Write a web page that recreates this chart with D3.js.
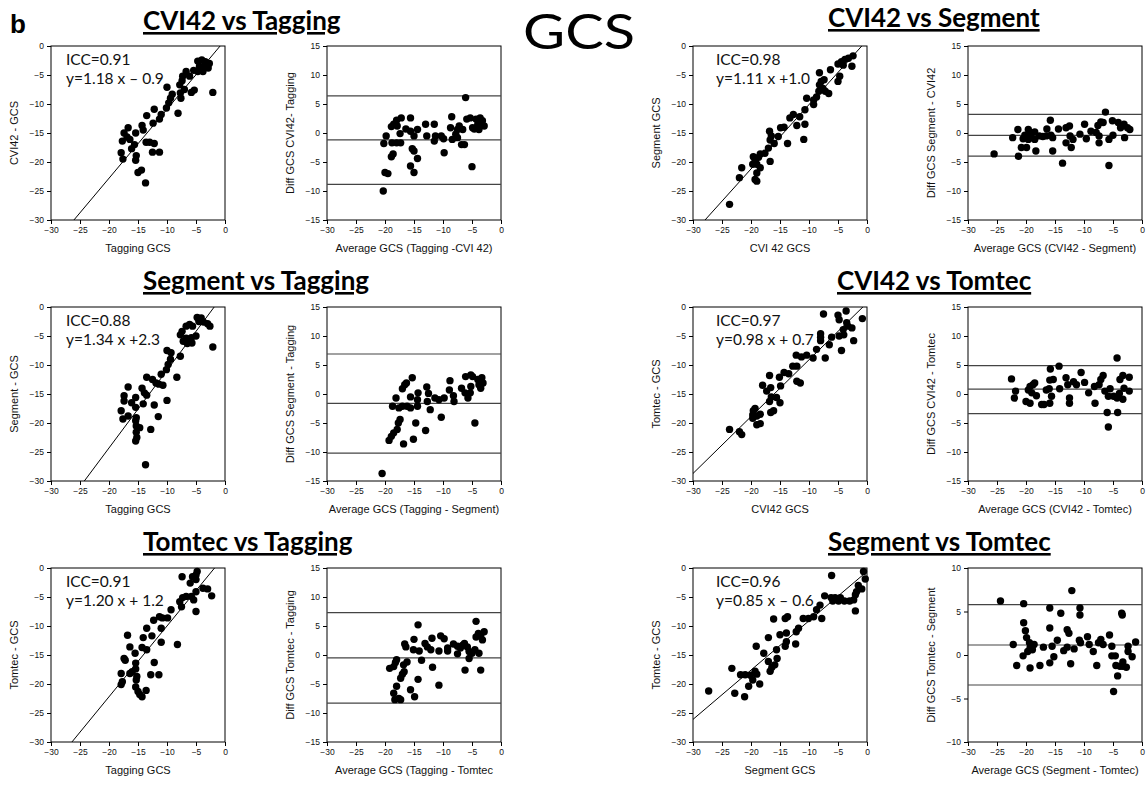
<!DOCTYPE html>
<html><head><meta charset="utf-8">
<script src="https://cdn.jsdelivr.net/npm/d3@7"></script>
<style>
body{margin:0;background:#fff;}
svg{display:block;}
</style></head><body>
<svg id="c" width="1146" height="785"></svg>
<script>
// ---------- DATA ----------
// Scatter panels: [x, y]
const cviVsTagging = [[-4.7,-2.6],[-4.0,-2.4],[-3.4,-2.7],[-2.7,-3.0],[-4.4,-3.5],[-3.5,-3.5],[-2.9,-3.8],[-5.4,-4.2],[-4.7,-4.4],[-3.8,-4.4],[-6.7,-4.4],[-7.3,-5.2],[-6.1,-5.2],[-7.4,-6.0],[-7.8,-6.7],[-5.3,-7.6],[-5.8,-8.0],[-2.1,-8.0],[-10.0,-7.1],[-7.7,-8.1],[-7.6,-9.0],[-9.1,-8.3],[-9.4,-9.0],[-9.7,-9.8],[-10.1,-10.7],[-8.1,-11.6],[-12.2,-10.9],[-11.0,-11.8],[-11.3,-12.6],[-12.4,-13.3],[-13.5,-12.0],[-14.3,-13.7],[-14.1,-14.5],[-16.7,-14.1],[-17.4,-15.0],[-15.4,-15.0],[-16.9,-15.7],[-17.7,-16.4],[-16.4,-16.1],[-15.6,-17.0],[-16.1,-17.7],[-17.9,-18.4],[-17.6,-19.5],[-15.3,-18.9],[-15.4,-19.7],[-13.6,-16.6],[-13.0,-16.6],[-12.2,-16.8],[-12.5,-18.3],[-11.3,-18.3],[-15.0,-21.8],[-14.4,-21.4],[-13.7,-23.6],[-7.0,-7.5]];
const segVsTagging = [[-4.8,-1.8],[-4.1,-1.9],[-4.5,-2.5],[-3.7,-2.6],[-3.0,-2.9],[-2.6,-3.3],[-6.7,-3.3],[-6.1,-3.0],[-5.6,-3.3],[-7.4,-4.2],[-7.7,-4.8],[-5.0,-5.0],[-5.8,-5.3],[-6.7,-5.4],[-7.2,-5.9],[-5.7,-6.2],[-6.5,-6.3],[-2.1,-6.9],[-10.0,-7.5],[-7.7,-8.5],[-9.3,-7.9],[-9.4,-9.0],[-9.8,-9.9],[-10.1,-10.8],[-11.0,-11.6],[-8.3,-12.1],[-13.5,-12.1],[-12.5,-12.5],[-11.9,-13.1],[-11.4,-13.3],[-10.7,-13.5],[-14.3,-14.0],[-13.9,-14.8],[-13.5,-15.2],[-16.7,-13.8],[-17.4,-15.3],[-15.4,-15.6],[-17.4,-16.2],[-16.1,-16.5],[-15.4,-17.3],[-14.1,-16.7],[-12.2,-16.9],[-10.0,-16.1],[-17.9,-17.9],[-16.7,-18.8],[-17.6,-19.3],[-15.3,-19.1],[-15.4,-19.6],[-15.3,-20.5],[-14.7,-20.8],[-12.8,-21.1],[-11.5,-18.9],[-15.3,-21.6],[-15.2,-22.5],[-15.4,-23.1],[-13.7,-27.2]];
const tomVsTagging = [[-4.8,-0.6],[-5.0,-1.2],[-5.6,-1.5],[-7.4,-1.5],[-5.0,-2.0],[-6.0,-2.6],[-3.8,-3.5],[-3.0,-3.6],[-2.3,-4.8],[-5.0,-4.1],[-6.7,-4.9],[-5.8,-4.9],[-5.4,-5.5],[-7.3,-5.1],[-7.8,-5.8],[-7.5,-6.7],[-5.0,-7.5],[-9.3,-7.2],[-9.9,-8.6],[-10.8,-8.6],[-11.3,-8.4],[-12.3,-9.0],[-11.0,-10.4],[-13.5,-10.4],[-12.6,-11.7],[-14.1,-12.0],[-13.5,-14.1],[-11.0,-12.8],[-8.2,-13.2],[-14.3,-13.7],[-16.8,-11.6],[-16.4,-13.6],[-15.5,-14.7],[-17.4,-15.6],[-17.2,-15.9],[-15.4,-16.4],[-12.2,-16.3],[-17.9,-18.2],[-16.4,-18.2],[-15.4,-17.4],[-15.2,-18.7],[-15.3,-19.3],[-12.8,-18.4],[-11.4,-18.4],[-17.7,-19.6],[-17.9,-20.1],[-15.4,-20.5],[-15.0,-21.3],[-14.7,-21.8],[-14.3,-22.2],[-13.6,-21.1],[-16.0,-17.9]];
const segVsCvi = [[-2.4,-1.7],[-3.2,-2.1],[-3.8,-2.3],[-4.4,-2.7],[-5.0,-3.1],[-4.1,-3.3],[-2.6,-3.5],[-6.3,-4.1],[-8.2,-4.6],[-4.7,-5.2],[-5.0,-6.1],[-7.9,-6.1],[-7.4,-5.8],[-8.2,-6.7],[-7.6,-7.3],[-7.2,-7.8],[-6.6,-8.2],[-8.3,-7.8],[-8.7,-8.8],[-9.2,-9.3],[-10.4,-9.0],[-9.2,-10.1],[-10.7,-11.0],[-12.7,-11.8],[-13.3,-12.4],[-11.6,-12.2],[-12.1,-13.7],[-10.7,-13.5],[-10.9,-16.1],[-14.3,-14.0],[-14.9,-14.1],[-15.3,-15.6],[-13.7,-16.8],[-16.8,-14.7],[-16.5,-15.5],[-16.0,-16.8],[-16.7,-16.2],[-17.0,-17.6],[-17.6,-18.5],[-18.4,-18.6],[-16.7,-19.9],[-19.6,-19.1],[-19.3,-19.9],[-19.7,-20.4],[-19.0,-20.4],[-18.4,-21.0],[-19.0,-21.9],[-19.3,-23.0],[-19.0,-23.3],[-21.6,-21.0],[-22.0,-22.7],[-23.7,-27.3],[-18.7,-19.2]];
const tomVsCvi = [[-3.6,-0.7],[-7.5,-1.2],[-5.0,-1.4],[-4.8,-2.2],[-0.8,-2.0],[-3.5,-2.7],[-4.1,-3.9],[-3.3,-3.3],[-2.6,-3.6],[-4.0,-4.8],[-4.8,-5.0],[-2.3,-5.8],[-4.4,-7.5],[-8.0,-4.6],[-8.0,-5.2],[-8.0,-5.8],[-6.1,-5.2],[-6.5,-6.5],[-8.7,-7.3],[-7.2,-8.8],[-9.3,-8.8],[-10.4,-8.3],[-11.3,-8.6],[-12.2,-8.3],[-12.1,-10.2],[-12.8,-10.2],[-13.5,-11.5],[-14.3,-11.3],[-15.1,-12.1],[-12.1,-12.8],[-11.5,-13.1],[-16.8,-11.8],[-14.9,-13.6],[-18.0,-13.5],[-17.3,-14.5],[-16.6,-13.9],[-16.5,-15.5],[-15.6,-15.6],[-15.0,-16.5],[-16.8,-16.3],[-16.1,-17.9],[-16.6,-18.2],[-19.3,-17.5],[-19.6,-17.9],[-19.7,-19.2],[-19.0,-18.8],[-18.4,-18.5],[-19.0,-20.3],[-18.4,-20.1],[-23.7,-21.1],[-22.0,-21.5],[-21.6,-22.0],[-19.7,-18.6]];
const tomVsSeg = [[-0.6,-0.6],[-0.3,-1.9],[-6.1,-1.3],[-1.5,-3.0],[-0.9,-3.6],[-1.8,-4.1],[-2.0,-4.6],[-7.3,-4.8],[-6.2,-5.1],[-5.5,-5.1],[-4.6,-5.1],[-3.9,-5.7],[-3.0,-5.7],[-2.3,-5.5],[-2.0,-7.4],[-4.9,-5.7],[-5.9,-5.7],[-8.1,-6.4],[-8.7,-7.2],[-9.2,-8.4],[-7.8,-8.7],[-10.1,-8.7],[-11.0,-8.7],[-13.7,-8.4],[-14.1,-8.7],[-16.1,-8.8],[-11.8,-10.4],[-12.2,-11.0],[-15.0,-11.5],[-13.9,-11.2],[-17.0,-12.0],[-12.3,-13.1],[-13.9,-12.7],[-14.1,-13.5],[-19.1,-13.5],[-17.8,-14.7],[-15.6,-14.1],[-15.5,-15.6],[-17.0,-16.1],[-15.9,-16.7],[-16.7,-17.8],[-18.5,-20.0],[-23.3,-17.3],[-21.8,-18.4],[-21.0,-18.4],[-20.1,-18.5],[-19.3,-17.8],[-19.0,-18.3],[-19.7,-19.3],[-20.4,-20.4],[-22.8,-21.6],[-21.1,-22.2],[-27.3,-21.2],[-16.4,-17.1]];

// Bland-Altman panels: [average, difference]
const baCviTagging = [[-20.3,-10.0],[-20.2,-1.8],[-19.8,-0.5],[-20.0,-6.8],[-19.5,-7.0],[-18.9,1.1],[-18.5,1.5],[-18.0,2.2],[-17.2,2.6],[-18.8,-1.7],[-18.0,-1.7],[-17.9,1.2],[-17.4,-0.1],[-17.3,-1.7],[-16.4,0.7],[-15.6,0.3],[-15.0,-0.5],[-15.3,-2.7],[-15.0,-3.1],[-14.4,-4.4],[-15.6,-5.7],[-15.0,-6.8],[-18.9,-4.1],[-18.6,-3.6],[-14.4,0.6],[-13.0,1.5],[-11.5,1.5],[-12.8,-0.5],[-11.5,-1.4],[-11.3,-0.5],[-10.3,-0.5],[-9.9,-1.0],[-9.8,-3.4],[-8.7,0.9],[-8.5,2.8],[-8.4,-1.1],[-7.8,-0.2],[-7.5,-0.8],[-7.2,1.2],[-6.8,-2.0],[-6.3,-2.0],[-6.1,6.1],[-5.9,2.4],[-5.3,2.6],[-4.9,0.9],[-5.0,-5.8],[-4.3,2.4],[-4.0,1.5],[-3.6,2.6],[-3.2,2.1],[-2.9,1.2],[-3.8,0.6],[-4.6,0.7],[-6.6,0.6],[-7.5,0.6],[-15.6,2.6]];
const baSegTagging = [[-20.5,-13.7],[-19.3,-8.0],[-18.9,-7.3],[-18.5,-6.7],[-17.9,-6.1],[-17.7,-5.0],[-17.4,-4.4],[-16.8,-8.6],[-18.7,-2.1],[-18.1,-0.7],[-17.6,-2.4],[-17.0,-2.1],[-17.0,0.9],[-16.6,1.6],[-16.3,1.9],[-16.2,-2.1],[-15.6,-0.5],[-15.3,2.8],[-15.6,-2.4],[-15.1,-7.8],[-14.7,-5.0],[-14.4,-2.1],[-14.3,0.2],[-14.4,-1.0],[-13.0,-6.3],[-12.8,1.2],[-12.5,0.1],[-12.7,-1.3],[-12.2,-2.7],[-11.4,-0.7],[-10.7,-1.0],[-10.3,-4.0],[-9.8,-0.7],[-8.9,0.7],[-8.8,2.3],[-8.2,-0.3],[-8.1,-1.3],[-6.8,1.0],[-6.2,0.2],[-6.1,3.0],[-5.7,-0.7],[-5.3,0.2],[-5.2,1.3],[-4.9,3.0],[-4.5,-5.0],[-4.0,2.5],[-3.8,1.6],[-3.3,2.8],[-3.1,1.9],[-3.5,1.0],[-5.2,3.3]];
const baTomTagging = [[-19.2,-2.3],[-18.5,-2.0],[-18.0,-0.8],[-18.2,-1.3],[-18.5,-6.6],[-18.3,-7.7],[-18.0,-5.4],[-17.3,-7.7],[-17.6,-7.5],[-17.3,-4.0],[-17.0,-3.3],[-16.7,-2.9],[-16.8,-1.7],[-16.2,-1.2],[-16.6,1.9],[-16.4,1.4],[-15.6,-6.0],[-15.0,2.7],[-15.1,0.9],[-14.9,-7.2],[-14.3,5.2],[-14.3,-4.2],[-14.1,0.7],[-13.7,-0.9],[-13.1,2.0],[-12.7,1.4],[-11.9,2.9],[-12.1,0.9],[-11.8,-2.1],[-10.7,-5.2],[-10.7,0.7],[-10.4,3.3],[-9.8,2.8],[-9.2,1.2],[-9.2,0.7],[-8.2,1.9],[-7.5,0.2],[-7.0,1.2],[-6.6,1.7],[-6.3,2.0],[-6.2,-2.6],[-5.8,1.4],[-5.5,0.6],[-5.5,-0.6],[-5.0,0.3],[-4.5,0.9],[-4.3,5.8],[-4.3,3.1],[-3.8,0.3],[-3.5,-2.6],[-3.5,3.3],[-3.2,2.6],[-2.9,4.0],[-3.9,3.7],[-7.5,1.5]];
const baSegCvi = [[-25.5,-3.6],[-22.3,-0.8],[-21.4,0.6],[-21.3,-4.0],[-20.8,-2.5],[-20.5,-1.0],[-20.2,-0.4],[-19.9,-2.5],[-19.6,0.6],[-19.6,-1.1],[-19.3,0.1],[-19.1,-0.8],[-18.5,0.2],[-18.3,-3.1],[-18.5,-1.1],[-17.7,-0.5],[-17.1,-0.6],[-16.5,-0.5],[-16.4,0.7],[-15.8,2.2],[-15.7,-0.4],[-15.4,-0.8],[-15.4,-3.1],[-14.4,0.7],[-13.7,-5.2],[-13.1,0.9],[-13.1,-1.7],[-12.5,1.2],[-12.4,-0.5],[-12.2,-2.5],[-11.9,-1.1],[-10.7,-0.2],[-9.9,1.5],[-9.6,-1.0],[-8.8,0.3],[-7.9,0.1],[-7.6,1.3],[-7.4,-0.5],[-7.4,-1.7],[-7.1,1.9],[-6.7,1.8],[-6.3,3.6],[-5.7,-1.1],[-5.7,-5.6],[-5.1,2.1],[-5.0,-0.4],[-4.1,1.8],[-3.5,1.2],[-3.1,1.5],[-3.0,-0.8],[-2.5,0.9],[-2.1,0.6],[-3.7,0.9]];
const baCviTom = [[-22.5,2.6],[-21.8,0.5],[-22.0,-0.7],[-20.0,-1.3],[-19.3,-1.6],[-19.6,0.7],[-19.3,1.3],[-18.8,1.6],[-18.5,1.9],[-19.0,0.2],[-18.2,-0.3],[-17.3,-1.8],[-16.9,-1.8],[-16.5,0.7],[-16.0,0.9],[-15.8,4.3],[-15.9,2.4],[-15.3,2.5],[-15.6,-0.4],[-15.9,-1.6],[-14.3,4.8],[-14.2,0.9],[-13.1,2.8],[-12.8,1.6],[-12.5,-0.7],[-12.5,-1.6],[-11.8,2.1],[-11.3,1.6],[-10.5,3.7],[-9.9,2.0],[-9.2,0.2],[-8.2,1.3],[-8.1,-1.6],[-7.4,1.6],[-7.1,2.5],[-6.7,3.2],[-6.4,0.5],[-6.0,-3.2],[-5.8,-5.7],[-5.5,0.9],[-4.9,-0.4],[-4.3,6.2],[-4.3,-0.7],[-4.2,-3.2],[-3.9,0.1],[-3.3,3.2],[-3.3,-0.9],[-3.1,1.0],[-3.8,2.5],[-2.2,2.9],[-2.2,0.5],[-5.8,-0.4]];
const baTomSeg = [[-24.4,6.2],[-22.2,1.2],[-21.6,-1.2],[-20.4,5.9],[-20.4,3.7],[-20.1,2.8],[-19.9,2.0],[-19.4,1.4],[-19.3,0.8],[-19.7,0.4],[-20.5,-0.1],[-19.3,-1.5],[-18.9,0.6],[-18.6,1.2],[-17.6,-1.2],[-17.0,0.9],[-15.9,5.4],[-15.9,3.1],[-15.9,-0.9],[-15.5,1.0],[-15.2,-0.2],[-14.6,1.7],[-14.0,4.8],[-13.5,0.5],[-12.9,2.9],[-12.6,2.5],[-12.9,0.9],[-12.3,-1.0],[-12.1,7.4],[-11.7,0.7],[-10.8,1.7],[-10.7,5.4],[-10.7,4.6],[-10.6,1.4],[-9.4,2.1],[-9.1,1.2],[-8.4,0.4],[-7.8,-1.2],[-7.5,1.4],[-7.1,1.8],[-6.7,1.2],[-5.6,2.3],[-5.2,1.0],[-5.2,-0.1],[-4.9,-4.2],[-4.6,-0.1],[-4.5,-1.2],[-4.2,-2.4],[-3.8,-1.3],[-3.5,4.8],[-3.4,4.6],[-3.3,-0.8],[-2.7,-1.4],[-2.4,1.0],[-2.4,0.4],[-1.7,-0.2],[-1.1,1.5],[-3.3,-1.3]];

// Regression lines (drawn) and Bland-Altman lines
const fitSlope     = [1.19, 1.34, 1.22, 1.11, 0.98, 0.85];
const fitIntercept = [1.0, 2.5, 2.2, 1.0, 0.7, -0.6];
const iccText = ["ICC=0.91","ICC=0.88","ICC=0.91","ICC=0.98","ICC=0.97","ICC=0.96"];
const eqText  = ["y=1.18 x \u2013 0.9","y=1.34 x +2.3","y=1.20 x + 1.2","y=1.11 x +1.0","y=0.98 x + 0.7","y=0.85 x \u2013 0.6"];
const baMean  = [-1.2, -1.6, -0.5, -0.4, 0.85, 1.15];
const baUpper = [6.4, 6.9, 7.3, 3.2, 4.9, 5.8];
const baLower = [-8.85, -10.2, -8.3, -4.0, -3.4, -3.45];

const titles = ["CVI42 vs Tagging","Segment vs Tagging","Tomtec vs Tagging","CVI42 vs Segment","CVI42 vs Tomtec","Segment vs Tomtec"];
const scatterXLabels = ["Tagging GCS","Tagging GCS","Tagging GCS","CVI 42 GCS","CVI42 GCS","Segment GCS"];
const scatterYLabels = ["CVI42 - GCS","Segment - GCS","Tomtec - GCS","Segment GCS","Tomtec - GCS","Tomtec - GCS"];
const baXLabels = ["Average GCS (Tagging -CVI 42)","Average GCS (Tagging - Segment)","Average GCS (Tagging - Tomtec","Average GCS (CVI42 - Segment)","Average GCS (CVI42 - Tomtec)","Average GCS (Segment - Tomtec)"];
const baYLabels = ["Diff GCS CVI42- Tagging","Diff GCS Segment - Tagging","Diff GCS Tomtec - Tagging","Diff GCS Segment - CVI42","Diff GCS CVI42 - Tomtec","Diff GCS Tomtec - Segment"];
const scatterTicks = [-30,-25,-20,-15,-10,-5,0];
const baTicks15 = [-15,-10,-5,0,5,10,15];
const baTicks10 = [-10,-5,0,5,10];

const scatterSets = [cviVsTagging, segVsTagging, tomVsTagging, segVsCvi, tomVsCvi, tomVsSeg];
const baSets = [baCviTagging, baSegTagging, baTomTagging, baSegCvi, baCviTom, baTomSeg];

// ---------- LAYOUT ----------
const svg = d3.select("#c");
const W = 174, H = 174;
const rowTop = [46, 307, 568];
const scatterLeft = [51, 693];
const baLeft = [327, 968];
const titlePos = [[143,30],[143,290],[143,551],[828,27],[837,290],[828,551]];
const annDx = [15, 23];

svg.append("text").attr("x",10).attr("y",33)
  .attr("font-family","Liberation Sans, Arial, sans-serif").attr("font-weight","bold")
  .attr("font-size",26).text("b");
svg.append("text").attr("x",579).attr("y",49).attr("text-anchor","middle")
  .attr("font-family","Lato, Open Sans, sans-serif").attr("font-size",49)
  .attr("textLength",112).attr("lengthAdjust","spacingAndGlyphs").text("GCS");

const tickFont = "Liberation Sans, Arial, sans-serif";

function drawAxes(g, x, y, xt, yt) {
  const ax = g.append("g").attr("transform",`translate(0,${H})`)
    .call(d3.axisBottom(x).tickValues(xt).tickSize(4).tickSizeOuter(0).tickPadding(3));
  const ay = g.append("g")
    .call(d3.axisLeft(y).tickValues(yt).tickSize(4).tickSizeOuter(0).tickPadding(3));
  [ax, ay].forEach(a => {
    a.selectAll("text").attr("font-family", tickFont).attr("font-size", 8.5).attr("fill","#111");
    a.select(".domain").remove();
    a.selectAll("line").attr("stroke","#000");
  });
  g.append("rect").attr("width",W).attr("height",H).attr("fill","none").attr("stroke","#000").attr("stroke-width",1);
}

function axisTitles(g, xl, yl) {
  g.append("text").attr("x",W/2).attr("y",H+32).attr("text-anchor","middle")
    .attr("font-family",tickFont).attr("font-size",11).attr("fill","#111").text(xl);
  g.append("text").attr("transform",`translate(-33,${H/2}) rotate(-90)`).attr("text-anchor","middle")
    .attr("font-family",tickFont).attr("font-size",11).attr("fill","#111").text(yl);
}

for (let i = 0; i < 6; i++) {
  const col = i < 3 ? 0 : 1, row = i % 3;
  const top = rowTop[row];

  // title
  svg.append("text").attr("x",titlePos[i][0]).attr("y",titlePos[i][1])
    .attr("font-family","Lato, Open Sans, sans-serif").attr("font-weight","bold")
    .attr("font-size",26).style("text-decoration","underline").text(titles[i]);

  // scatter
  const gs = svg.append("g").attr("transform",`translate(${scatterLeft[col]},${top})`);
  const xs = d3.scaleLinear().domain([-30,0]).range([0,W]);
  const ys = d3.scaleLinear().domain([-30,0]).range([H,0]);
  const clipId = "clip"+i;
  gs.append("clipPath").attr("id",clipId).append("rect").attr("width",W).attr("height",H);
  drawAxes(gs, xs, ys, scatterTicks, scatterTicks);
  const lineX = [-30, 0];
  gs.append("path").attr("clip-path",`url(#${clipId})`)
    .attr("d", d3.line().x(d=>xs(d)).y(d=>ys(fitSlope[i]*d+fitIntercept[i]))(lineX))
    .attr("stroke","#000").attr("stroke-width",1).attr("fill","none");
  gs.selectAll("circle.pt").data(scatterSets[i]).join("circle").attr("class","pt")
    .attr("cx",d=>xs(d[0])).attr("cy",d=>ys(d[1])).attr("r",3.7).attr("fill","#000");
  axisTitles(gs, scatterXLabels[i], scatterYLabels[i]);
  gs.append("text").attr("x",annDx[col]).attr("y",19)
    .attr("font-family","Lato, Open Sans, sans-serif").attr("font-size",15.5).attr("fill","#111").text(iccText[i]);
  gs.append("text").attr("x",annDx[col]).attr("y",38)
    .attr("font-family","Lato, Open Sans, sans-serif").attr("font-size",15.5).attr("fill","#111").text(eqText[i]);

  // Bland-Altman
  const gb = svg.append("g").attr("transform",`translate(${baLeft[col]},${top})`);
  const lim = i === 5 ? 10 : 15;
  const xb = d3.scaleLinear().domain([-30,0]).range([0,W]);
  const yb = d3.scaleLinear().domain([-lim,lim]).range([H,0]);
  drawAxes(gb, xb, yb, scatterTicks, i === 5 ? baTicks10 : baTicks15);
  [baUpper[i], baMean[i], baLower[i]].forEach(v => {
    gb.append("line").attr("x1",xb(-30)).attr("x2",xb(0)).attr("y1",yb(v)).attr("y2",yb(v))
      .attr("stroke","#444").attr("stroke-width",1.2);
  });
  gb.selectAll("circle.pt").data(baSets[i]).join("circle").attr("class","pt")
    .attr("cx",d=>xb(d[0])).attr("cy",d=>yb(d[1])).attr("r",3.7).attr("fill","#000");
  axisTitles(gb, baXLabels[i], baYLabels[i]);
}
</script>
</body></html>
